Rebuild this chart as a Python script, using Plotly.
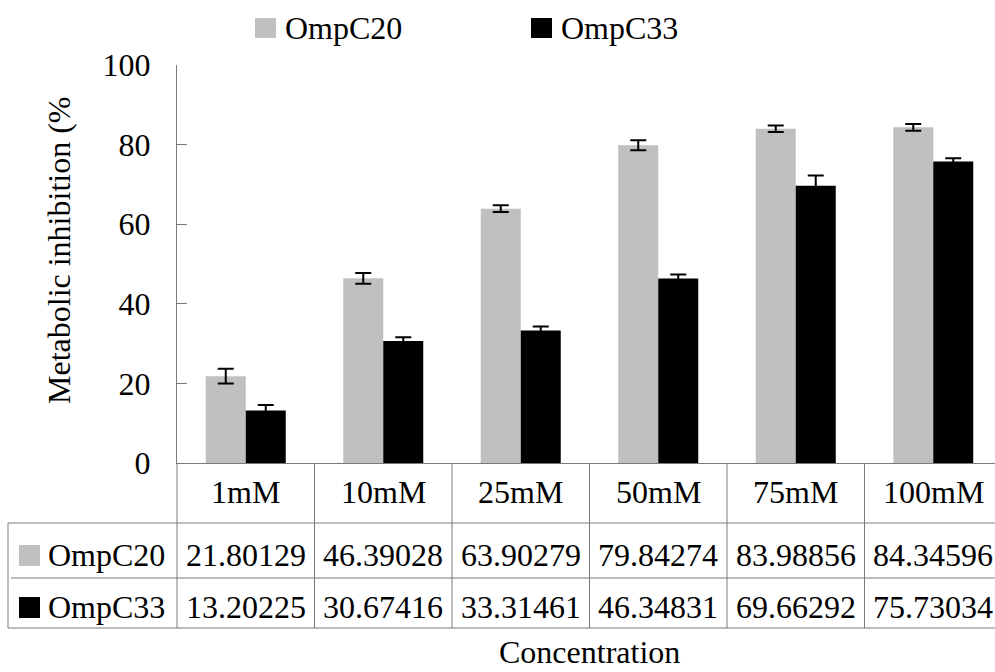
import plotly.graph_objects as go

# Data
concentrations = ["1mM", "10mM", "25mM", "50mM", "75mM", "100mM"]
series_names = ["OmpC20", "OmpC33"]
ompc20 = [21.80129, 46.39028, 63.90279, 79.84274, 83.98856, 84.34596]
ompc33 = [13.20225, 30.67416, 33.31461, 46.34831, 69.66292, 75.73034]
ompc20_err = [1.85, 1.35, 0.85, 1.25, 0.8, 0.85]
ompc33_err = [1.4, 0.95, 1.0, 1.0, 2.6, 0.85]
y_ticks = [0, 20, 40, 60, 80, 100]

# Layout geometry (pixels)
W, H = 995, 672
ML, MT, MB = 177, 65, 209
PLOT_W = W - ML
PLOT_H = H - MT - MB
CAT_W = 137.5          # width of one category column
FONT = "Liberation Serif"
FS = 32
LINE_COL = "#7a7a7a"
colors = ["#c0c0c0", "#000000"]


def px_x(p):
    """pixel x -> paper x"""
    return (p - ML) / PLOT_W


def px_y(p):
    """pixel y -> paper y"""
    return (H - MB - p) / PLOT_H


def txt_font():
    return dict(family=FONT, size=FS, color="black")


values = [ompc20, ompc33]
errors = [ompc20_err, ompc33_err]
xs = list(range(len(concentrations)))

fig = go.Figure()
for name, vals, errs, col in zip(series_names, values, errors, colors):
    fig.add_trace(go.Bar(
        x=xs, y=vals, name=name, marker=dict(color=col, line=dict(width=0)),
        error_y=dict(type="data", array=errs, visible=True, color="black",
                     thickness=2, width=8),
        showlegend=False,
    ))

shapes = []
annotations = []

# Table column separators below the axis
for i in range(len(concentrations) + 1):
    xp = px_x(ML + i * CAT_W)
    shapes.append(dict(type="line", xref="paper", yref="paper",
                       x0=xp, x1=xp, y0=0, y1=px_y(628),
                       line=dict(color=LINE_COL, width=1)))

# Row borders of the data table
for y_px, x_start in [(523, 8), (578, 11), (628, 8)]:
    shapes.append(dict(type="line", xref="paper", yref="paper",
                       x0=px_x(x_start), x1=1, y0=px_y(y_px), y1=px_y(y_px),
                       line=dict(color=LINE_COL, width=1)))
shapes.append(dict(type="line", xref="paper", yref="paper",
                   x0=px_x(8), x1=px_x(8), y0=px_y(523), y1=px_y(628),
                   line=dict(color=LINE_COL, width=1)))

# Column headers
for i, c in enumerate(concentrations):
    annotations.append(dict(x=i, y=px_y(492), xref="x", yref="paper", text=c,
                            showarrow=False, xanchor="center", yanchor="middle",
                            font=txt_font()))

# Table rows: legend key, series name, values
row_centers = [555, 607]
for r, (name, vals, col) in enumerate(zip(series_names, values, colors)):
    yc = row_centers[r]
    shapes.append(dict(type="rect", xref="paper", yref="paper",
                       x0=px_x(19), x1=px_x(40), y0=px_y(yc + 11), y1=px_y(yc - 10),
                       fillcolor=col, line=dict(width=0)))
    annotations.append(dict(x=px_x(46), y=px_y(yc), xref="paper", yref="paper",
                            text=name, showarrow=False, xanchor="left",
                            yanchor="middle", font=txt_font()))
    for i, v in enumerate(vals):
        annotations.append(dict(x=i, y=px_y(yc), xref="x", yref="paper",
                                text=f"{v:.5f}", showarrow=False,
                                xanchor="center", yanchor="middle",
                                font=txt_font()))

# Legend at the top
legend_pos = [(255, 283), (531, 559)]
for (sq_x, tx_x), name, col in zip(legend_pos, series_names, colors):
    shapes.append(dict(type="rect", xref="paper", yref="paper",
                       x0=px_x(sq_x), x1=px_x(sq_x + 21), y0=px_y(38), y1=px_y(18),
                       fillcolor=col, line=dict(width=0)))
    annotations.append(dict(x=px_x(tx_x), y=px_y(28), xref="paper", yref="paper",
                            text=name, showarrow=False, xanchor="left",
                            yanchor="middle", font=txt_font()))

# Axis titles
annotations.append(dict(x=(len(concentrations) - 1) / 2, y=px_y(652), xref="x",
                        yref="paper", text="Concentration", showarrow=False,
                        xanchor="center", yanchor="middle", font=txt_font()))
annotations.append(dict(x=px_x(59), y=px_y(250), xref="paper", yref="paper",
                        text="Metabolic inhibition (%", showarrow=False,
                        textangle=-90, xanchor="center", yanchor="middle",
                        font=txt_font()))

fig.update_layout(
    width=W, height=H,
    margin=dict(l=ML, r=0, t=MT, b=MB, pad=0),
    paper_bgcolor="white", plot_bgcolor="white",
    barmode="group", bargap=1 - 80 / CAT_W, bargroupgap=0,
    shapes=shapes, annotations=annotations,
    font=txt_font(),
    xaxis=dict(range=[-0.5, -0.5 + PLOT_W / CAT_W], showticklabels=False,
               ticks="", showgrid=False, zeroline=False, showline=True,
               linecolor=LINE_COL, linewidth=1, fixedrange=True),
    yaxis=dict(range=[0, 100], tickvals=y_ticks, ticks="inside", ticklen=10,
               tickcolor=LINE_COL, tickwidth=1, showgrid=False, zeroline=False,
               showline=True, linecolor=LINE_COL, linewidth=1,
               ticklabelstandoff=19, tickfont=txt_font()),
)

fig.write_html("out.html")
